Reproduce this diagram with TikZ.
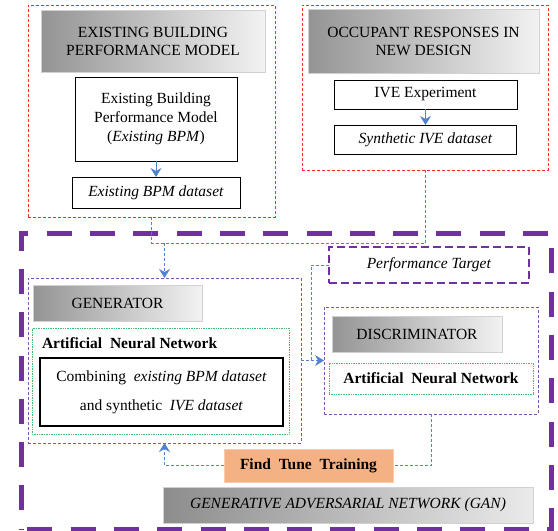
\documentclass[tikz,border=0pt]{standalone}
\usepackage{fontspec}
\setmainfont{Liberation Serif}
\usetikzlibrary{arrows.meta}
\definecolor{redd}{RGB}{255,40,40}
\definecolor{purp}{RGB}{112,48,160}
\definecolor{purpl}{RGB}{130,80,185}
\definecolor{bluel}{RGB}{80,130,210}
\definecolor{grn}{RGB}{60,190,110}
\definecolor{orng}{RGB}{244,177,131}
\definecolor{orngb}{RGB}{248,203,173}
\begin{document}
\begin{tikzpicture}[x=1pt,y=-1pt,
  every node/.style={font=\fontsize{15.5}{18}\selectfont, inner sep=0pt, outer sep=0pt},
  redbox/.style={draw=redd, line width=0.8pt, dash pattern=on 3pt off 2pt},
  hdr/.style={draw=black!18, line width=0.8pt, left color=black!42, right color=black!5, align=center},
  plainbox/.style={draw=black, line width=1pt, fill=white, align=center},
  flow/.style={draw=bluel, line width=0.9pt, dash pattern=on 3pt off 2pt},
  solidflow/.style={draw=bluel, line width=0.9pt},
  arrowend/.style={-{Stealth[length=9pt,width=11pt,inset=3pt]}},
  subnet/.style={draw=purpl, line width=0.9pt, dash pattern=on 3pt off 2pt},
  annbox/.style={draw=grn, line width=0.7pt, densely dotted},
  perfbox/.style={draw=purp, line width=2pt, dash pattern=on 8pt off 4pt},
  ganframe/.style={draw=purp, line width=5pt, dash pattern=on 25pt off 18.3pt, dash phase=37pt},
  boldtxt/.style={font=\bfseries\fontsize{15.5}{18}\selectfont}
]
\useasboundingbox (0,0) rectangle (558,531);

% top left group
\node[redbox, minimum width=247pt, minimum height=212pt] (redL) at (151.5,111) {};
\node[hdr, minimum width=224pt, minimum height=62pt] (hdrL) at (153,41) {EXISTING BUILDING\\PERFORMANCE MODEL};
\node[plainbox, minimum width=162pt, minimum height=84pt, font=\fontsize{15.5}{19}\selectfont] (bpm) at (156,119) {Existing Building\\Performance Model\\(\textit{Existing BPM})};
\node[plainbox, minimum width=168pt, minimum height=31pt] (bpmds) at (156,192.5) {\textit{Existing BPM dataset}};
\draw[solidflow, arrowend] (bpm) -- (bpmds);

% top right group
\node[redbox, minimum width=246pt, minimum height=165pt] (redR) at (425,87.5) {};
\node[hdr, minimum width=231pt, minimum height=64pt] (hdrR) at (423.5,41) {OCCUPANT RESPONSES IN\\NEW DESIGN};
\node[plainbox, minimum width=183pt, minimum height=29pt] (ive) at (425.5,94.5) {IVE Experiment};
\node[plainbox, minimum width=182pt, minimum height=29pt] (syn) at (425.5,139.5) {\textit{Synthetic IVE dataset}};
\draw[solidflow, arrowend] (ive) -- (syn);

% GAN frame
\node[ganframe, minimum width=530pt, minimum height=296pt] (gan) at (286,381) {};

% generator
\node[subnet, minimum width=273pt, minimum height=165pt] (gen) at (164.5,360.5) {};
\node[hdr, minimum width=169pt, minimum height=36pt] (genhdr) at (117.5,303) {GENERATOR};
\node[annbox, minimum width=257pt, minimum height=106pt] (genann) at (160.5,381) {};
\node[boldtxt, anchor=west] (genanntext) at (42,343) {Artificial\ \ Neural Network};
\node[plainbox, line width=2pt, minimum width=243pt, minimum height=68pt, font=\fontsize{15.5}{29}\selectfont] (combo) at (161.5,392) {Combining\ \ \textit{existing BPM dataset}\\and synthetic\ \ \textit{IVE dataset}};

% performance target
\node[perfbox, minimum width=200pt, minimum height=36pt] (perf) at (429,265) {\textit{Performance Target}};

% discriminator
\node[subnet, minimum width=214pt, minimum height=107pt] (disc) at (431,360.5) {};
\node[hdr, minimum width=170pt, minimum height=36pt] (dischdr) at (417,334) {DISCRIMINATOR};
\node[annbox, boldtxt, minimum width=204pt, minimum height=31pt] (discann) at (431,378.5) {Artificial\ \ Neural Network};

% fine tune & title
\node[fill=orng, draw=orngb, line width=1pt, boldtxt, minimum width=169pt, minimum height=33pt] (fine) at (308.5,465.5) {Find\ \ Tune\ \ Training};
\node[hdr, left color=black!45, right color=black!8, minimum width=370pt, minimum height=36pt] (gantitle) at (348,505) {\textit{GENERATIVE ADVERSARIAL NETWORK (GAN)}};

% connectors
\coordinate (jL) at (152,243);
\draw[flow] (redL.south) |- (redR.south |- jL) -- (redR.south);
\draw[flow, arrowend] (gen.north |- jL) -- (gen.north);
\coordinate (kk) at (311,360.5);
\draw[flow] (perf.west) -| (kk);
\draw[flow, arrowend] (gen.east) -- (disc.west);
\draw[flow] (disc.south) |- (fine.east);
\draw[flow, arrowend] (fine.west) -| (gen.south);
\end{tikzpicture}
\end{document}
